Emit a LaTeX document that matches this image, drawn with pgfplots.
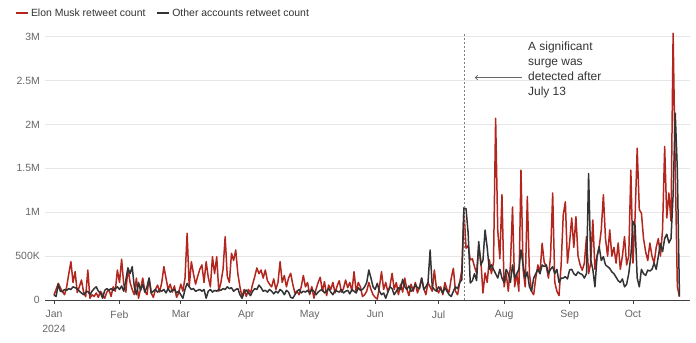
\documentclass[border=0pt]{standalone}
\usepackage{pgfplots}
\pgfplotsset{compat=1.18}
\usepackage{pgfplotstable}
\usepackage{fontspec}
\setmainfont{Liberation Sans}
\usetikzlibrary{arrows.meta}
\definecolor{musk}{HTML}{B3261E}
\definecolor{other}{HTML}{333333}
\definecolor{ticklab}{HTML}{666666}
\definecolor{gridc}{HTML}{E6E6E6}
\pgfplotstableread{
d e o
0 57 57
1 120 40
2 190 180
3 140 100
4 95 95
5 60 120
6 150 110
7 300 130
8 437 120
9 200 150
10 323 140
11 85 130
12 150 100
13 228 80
14 90 60
15 38 90
16 342 100
17 20 60
18 60 100
19 40 130
20 80 150
21 30 100
22 100 80
23 60 20
24 20 110
25 90 130
26 120 110
27 40 130
28 150 110
29 100 130
30 342 150
31 200 120
32 465 160
33 180 100
34 90 228
35 365 365
36 200 300
37 120 380
38 60 150
39 250 60
40 20 200
41 130 110
42 250 180
43 100 90
44 60 150
45 250 250
46 80 80
47 30 100
48 120 120
49 170 90
50 90 110
51 200 100
52 380 120
53 250 80
54 120 130
55 180 90
56 90 110
57 160 120
58 30 80
59 80 100
60 180 60
61 100 20
62 250 120
63 760 190
64 150 150
65 437 120
66 300 130
67 180 100
68 270 110
69 350 120
70 400 100
71 200 120
72 437 20
73 260 100
74 150 120
75 494 90
76 300 110
77 494 100
78 100 120
79 200 110
80 350 130
81 722 120
82 270 150
83 200 130
84 532 140
85 450 100
86 570 120
87 300 130
88 150 60
89 30 20
90 120 90
91 40 114
92 120 80
93 80 50
94 180 100
95 266 130
96 365 120
97 300 170
98 342 140
99 250 100
100 342 110
101 220 90
102 180 120
103 150 100
104 240 70
105 120 100
106 200 80
107 437 120
108 200 100
109 280 60
110 150 110
111 250 90
112 304 30
113 180 20
114 80 60
115 100 100
116 60 120
117 150 80
118 280 100
119 150 90
120 200 110
121 60 80
122 152 120
123 20 100
124 120 60
125 200 90
126 259 110
127 100 120
128 210 80
129 50 100
130 170 130
131 120 90
132 200 60
133 80 110
134 160 100
135 220 90
136 90 120
137 130 80
138 228 100
139 140 110
140 200 70
141 100 120
142 323 100
143 90 80
144 200 140
145 150 110
146 40 120
147 60 150
148 100 200
149 200 342
150 120 250
151 60 150
152 30 120
153 10 190
154 150 100
155 323 60
156 120 80
157 200 20
158 90 90
159 160 150
160 304 130
161 120 60
162 200 100
163 60 140
164 180 120
165 90 235
166 250 150
167 120 120
168 50 160
169 180 100
170 100 120
171 200 180
172 80 140
173 150 130
174 250 250
175 130 120
176 60 150
177 200 200
178 150 570
179 100 150
180 342 120
181 130 100
182 80 150
183 150 120
184 60 80
185 200 140
186 120 100
187 90 60
188 250 40
189 361 100
190 100 150
191 60 130
192 200 200
193 340 230
194 1030 1050
195 590 1040
196 620 760
197 456 194
198 470 220
199 380 300
200 308 220
201 608 665
202 450 400
203 80 450
204 308 798
205 200 600
206 460 350
207 300 400
208 430 350
209 2070 300
210 800 250
211 470 350
212 1200 250
213 150 200
214 300 350
215 100 300
216 400 200
217 1060 400
218 150 250
219 300 300
220 100 350
221 1480 570
222 350 400
223 150 250
224 1180 320
225 300 150
226 100 100
227 60 250
228 250 300
229 400 350
230 300 300
231 646 400
232 430 380
233 380 400
234 250 300
235 500 350
236 1220 380
237 200 300
238 100 350
239 50 200
240 400 250
241 970 250
242 1120 266
243 420 240
244 650 342
245 935 350
246 600 300
247 950 280
248 500 320
249 400 300
250 340 290
251 420 250
252 722 300
253 300 1440
254 420 456
255 912 350
256 350 150
257 500 494
258 600 608
259 800 450
260 1200 494
261 700 400
262 500 380
263 800 360
264 500 320
265 600 300
266 420 260
267 650 220
268 350 200
269 500 240
270 722 150
271 400 180
272 500 300
273 1480 500
274 420 893
275 950 850
276 1730 250
277 1030 150
278 990 350
279 700 300
280 550 280
281 450 340
282 650 330
283 500 350
284 420 420
285 600 350
286 700 500
287 500 646
288 800 550
289 1750 700
290 935 750
291 1220 650
292 900 700
293 3040 1200
294 1500 2130
295 150 1480
296 38 40
}\datatable

\begin{document}
\begin{tikzpicture}
\useasboundingbox (-45bp,-43bp) rectangle (651bp,300bp);
\begin{axis}[
  scale only axis, width=645bp, height=272bp,
  at={(0,0)}, anchor=south west,
  xmin=-4.26, xmax=300.99, ymin=0, ymax=3100,
  axis x line*=bottom, axis y line*=left,
  x axis line style={draw=black!75, line width=0.8bp},
  y axis line style={draw=none},
  xtick={0,31,60,91,121,152,182,213,244,274},
  xticklabels={Jan\\2024,Feb,Mar,Apr,May,Jun,Jul,Aug,Sep,Oct},
  xticklabel style={align=center, text=ticklab, font=\fontsize{10.5}{15}\selectfont},
  xtick style={draw=black!75, line width=0.8bp},
  x tick label style={yshift=-3bp},
  tick align=outside, major tick length=4bp,
  ytick={0,500,1000,1500,2000,2500,3000},
  yticklabels={0,500K,1M,1.5M,2M,2.5M,3M},
  ytick style={draw=none},
  yticklabel style={text=ticklab, font=\fontsize{10.5}{12}\selectfont, inner sep=0pt, xshift=-1bp},
  /pgf/number format/assume math mode=true,
  ymajorgrids, grid style={gridc, line width=0.8bp},
  legend style={at={(axis description cs:-0.0465,1.055)}, anchor=west, draw=none, fill=none,
    inner sep=0pt, font=\fontsize{10.5}{12}\selectfont, text=other,
    /tikz/every even column/.append style={column sep=9bp}},
  legend columns=2,
  legend image code/.code={\draw[#1, line width=1.8bp] (0bp,0bp) -- (12bp,0bp);},
  every axis plot/.append style={line width=1.5bp, line join=round},
]
\addplot[musk, no markers] table[x=d, y=e] {\datatable};
\addlegendentry{Elon Musk retweet count}
\addplot[other, no markers] table[x=d, y=o] {\datatable};
\addlegendentry{Other accounts retweet count}
\draw[black!50, line width=0.6bp, dash pattern=on 2bp off 2bp] (axis cs:194,0) -- (axis cs:194,3045);
\draw[black!60, line width=0.7bp, -{To[length=3bp,width=5bp]}] (axis cs:221.3,2535) -- (axis cs:199.2,2535);
\node[anchor=north west, align=left, inner sep=0pt, text=black!80, font=\fontsize{12}{15}\selectfont] at (axis cs:224.3,2945) {A significant\\surge was\\detected after\\July 13};
\end{axis}
\end{tikzpicture}
\end{document}
